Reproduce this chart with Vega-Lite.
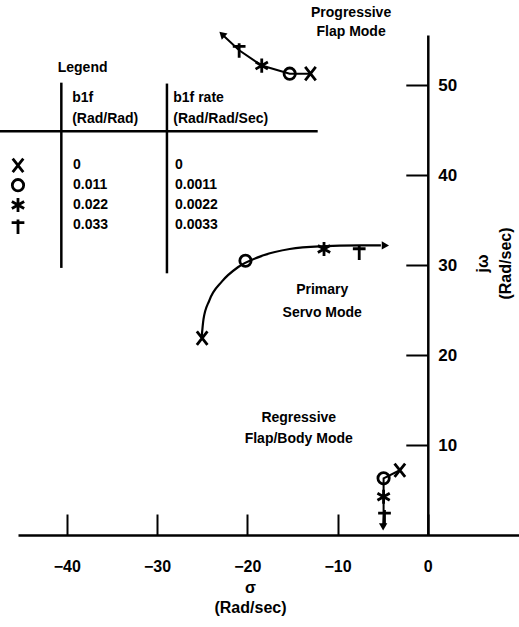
{
  "$schema": "https://vega.github.io/schema/vega-lite/v6.json",
  "autosize": "none",
  "width": 501,
  "height": 500,
  "padding": {"left": 18, "top": 35, "right": 0, "bottom": 92},
  "background": "white",
  "config": {
    "view": {"stroke": null},
    "font": "Liberation Sans",
    "axis": {"grid": false}
  },
  "datasets": {
    "paths": [
      {"mode": "Progressive", "order": 0, "x": -13.0, "y": 51.3},
      {"mode": "Progressive", "order": 1, "x": -15.3, "y": 51.3},
      {"mode": "Progressive", "order": 2, "x": -18.4, "y": 52.2},
      {"mode": "Progressive", "order": 3, "x": -20.9, "y": 53.9},
      {"mode": "Progressive", "order": 4, "x": -22.6, "y": 55.5},
      {"mode": "Regressive", "order": 0, "x": -3.1, "y": 7.2},
      {"mode": "Regressive", "order": 1, "x": -4.9, "y": 6.3},
      {"mode": "Regressive", "order": 2, "x": -4.9, "y": 4.3},
      {"mode": "Regressive", "order": 3, "x": -4.9, "y": 2.4},
      {"mode": "Regressive", "order": 4, "x": -4.95, "y": 1.0},
      {"mode": "Primary", "order": 0, "x": -25.06, "y": 21.9},
      {"mode": "Primary", "order": 1, "x": -24.85, "y": 24.0},
      {"mode": "Primary", "order": 2, "x": -24.2, "y": 26.1},
      {"mode": "Primary", "order": 3, "x": -22.8, "y": 28.2},
      {"mode": "Primary", "order": 4, "x": -21.0, "y": 29.8},
      {"mode": "Primary", "order": 5, "x": -18.2, "y": 31.1},
      {"mode": "Primary", "order": 6, "x": -15.3, "y": 31.8},
      {"mode": "Primary", "order": 7, "x": -12.0, "y": 32.1},
      {"mode": "Primary", "order": 8, "x": -7.5, "y": 32.2},
      {"mode": "Primary", "order": 9, "x": -5.2, "y": 32.2}
    ],
    "arrows": [
      {"mode": "Progressive", "x": -22.8, "y": 55.7},
      {"mode": "Primary", "x": -4.7, "y": 32.2},
      {"mode": "Regressive", "x": -4.95, "y": 0.9}
    ],
    "syms": [
      {"sym": "X", "x": -13.0, "y": 51.3},
      {"sym": "O", "x": -15.3, "y": 51.3},
      {"sym": "*", "x": -18.4, "y": 52.2},
      {"sym": "+", "x": -20.9, "y": 53.9},
      {"sym": "X", "x": -25.0, "y": 21.9},
      {"sym": "O", "x": -20.2, "y": 30.5},
      {"sym": "*", "x": -11.5, "y": 31.8},
      {"sym": "+", "x": -7.6, "y": 31.4},
      {"sym": "X", "x": -3.1, "y": 7.2},
      {"sym": "O", "x": -4.9, "y": 6.3},
      {"sym": "*", "x": -4.9, "y": 4.25},
      {"sym": "+", "x": -4.8, "y": 2.0},
      {"sym": "X", "x": -45.4, "y": 41.1},
      {"sym": "O", "x": -45.4, "y": 38.9},
      {"sym": "*", "x": -45.4, "y": 36.7},
      {"sym": "+", "x": -45.4, "y": 34.3}
    ],
    "rules": [
      {"x": -47.4, "y": 44.9, "x2": -12.2, "y2": 44.9},
      {"x": -40.6, "y": 50.3, "x2": -40.6, "y2": 29.7},
      {"x": -28.9, "y": 50.2, "x2": -28.9, "y2": 29.1}
    ],
    "modeText": [
      {"text": "Progressive", "x": -8.5, "y": 58.0},
      {"text": "Flap Mode", "x": -8.5, "y": 55.9},
      {"text": "Primary", "x": -11.7, "y": 27.2},
      {"text": "Servo Mode", "x": -11.7, "y": 24.7},
      {"text": "Regressive", "x": -14.3, "y": 13.0},
      {"text": "Flap/Body Mode", "x": -14.3, "y": 10.7}
    ],
    "tableText": [
      {"text": "Legend", "x": -41.0, "y": 51.9},
      {"text": "b1f", "x": -39.4, "y": 48.6},
      {"text": "(Rad/Rad)", "x": -39.4, "y": 46.3},
      {"text": "b1f rate", "x": -28.2, "y": 48.6},
      {"text": "(Rad/Rad/Sec)", "x": -28.2, "y": 46.3},
      {"text": "0", "x": -39.3, "y": 41.1},
      {"text": "0.011", "x": -39.3, "y": 38.9},
      {"text": "0.022", "x": -39.3, "y": 36.7},
      {"text": "0.033", "x": -39.3, "y": 34.5},
      {"text": "0", "x": -28.0, "y": 41.1},
      {"text": "0.0011", "x": -28.0, "y": 38.9},
      {"text": "0.0022", "x": -28.0, "y": 36.7},
      {"text": "0.0033", "x": -28.0, "y": 34.5}
    ]
  },
  "encoding": {
    "x": {
      "field": "x", "type": "quantitative",
      "scale": {"domain": [-45.4, 10.1], "nice": false, "zero": false},
      "axis": {
        "orient": "bottom",
        "values": [-40, -30, -20, -10, 0],
        "tickSize": -21, "tickWidth": 2, "tickColor": "black",
        "domainColor": "black", "domainWidth": 2.5,
        "labelFont": "Liberation Sans", "labelFontWeight": "bold", "labelFontSize": 16,
        "labelColor": "black", "labelPadding": 44,
        "title": ["σ", "(Rad/sec)"],
        "titleFont": "Liberation Sans", "titleFontWeight": "bold", "titleFontSize": 16,
        "titleColor": "black", "titleLineHeight": 20,
        "titleX": 232, "titleY": 44, "titleBaseline": "top", "titleAlign": "center"
      }
    },
    "y": {
      "field": "y", "type": "quantitative",
      "scale": {"domain": [0, 55.6], "nice": false, "zero": false},
      "axis": {
        "orient": "right", "offset": -91.2,
        "values": [10, 20, 30, 40, 50],
        "tickSize": -22, "tickWidth": 2, "tickColor": "black",
        "domainColor": "black", "domainWidth": 2.5,
        "labelFont": "Liberation Sans", "labelFontWeight": "bold", "labelFontSize": 17,
        "labelColor": "black", "labelPadding": 32, "labelAlign": "left",
        "title": ["jω", "(Rad/sec)"],
        "titleFont": "Liberation Sans", "titleFontWeight": "bold", "titleFontSize": 16,
        "titleColor": "black", "titleLineHeight": 23, "titleAngle": 270,
        "titleX": 55, "titleY": 228, "titleAlign": "center", "titleBaseline": "middle"
      }
    }
  },
  "layer": [
    {
      "data": {"name": "paths"},
      "transform": [{"filter": "datum.mode !== 'Primary'"}],
      "mark": {"type": "line", "color": "black", "strokeWidth": 2},
      "encoding": {"detail": {"field": "mode"}, "order": {"field": "order", "type": "quantitative"}}
    },
    {
      "data": {"name": "paths"},
      "transform": [{"filter": "datum.mode === 'Primary'"}],
      "mark": {"type": "line", "color": "black", "strokeWidth": 2.2, "interpolate": "monotone"},
      "encoding": {"order": {"field": "order", "type": "quantitative"}}
    },
    {
      "data": {"name": "rules"},
      "mark": {"type": "rule", "color": "black", "strokeWidth": 2.5},
      "encoding": {"x2": {"field": "x2"}, "y2": {"field": "y2"}}
    },
    {
      "data": {"name": "syms"},
      "mark": {"type": "point", "filled": false, "stroke": "black", "strokeWidth": 2.8, "opacity": 1, "size": 200},
      "encoding": {
        "shape": {
          "field": "sym", "type": "nominal", "legend": null,
          "scale": {
            "domain": ["X", "O", "*", "+"],
            "range": [
              "M-0.75,-0.95L0.75,0.95M-0.75,0.95L0.75,-0.95",
              "M0.8,0A0.8,0.8,0,1,1,-0.8,0A0.8,0.8,0,1,1,0.8,0Z",
              "M0,-1L0,1M-0.87,-0.5L0.87,0.5M-0.87,0.5L0.87,-0.5",
              "M-0.9,-0.55L0.9,-0.55M0,-1L0,1.05"
            ]
          }
        }
      }
    },
    {
      "data": {"name": "arrows"},
      "transform": [{"filter": "datum.mode === 'Progressive'"}],
      "mark": {"type": "point", "shape": "triangle-up", "filled": true, "color": "black", "opacity": 1, "size": 70, "angle": -47}
    },
    {
      "data": {"name": "arrows"},
      "transform": [{"filter": "datum.mode === 'Primary'"}],
      "mark": {"type": "point", "shape": "triangle-up", "filled": true, "color": "black", "opacity": 1, "size": 70, "angle": 90}
    },
    {
      "data": {"name": "arrows"},
      "transform": [{"filter": "datum.mode === 'Regressive'"}],
      "mark": {"type": "point", "shape": "triangle-up", "filled": true, "color": "black", "opacity": 1, "size": 70, "angle": 180}
    },
    {
      "data": {"name": "modeText"},
      "mark": {"type": "text", "font": "Liberation Sans", "fontWeight": "bold", "fontSize": 14, "color": "black", "align": "center", "baseline": "middle"},
      "encoding": {"text": {"field": "text"}}
    },
    {
      "data": {"name": "tableText"},
      "mark": {"type": "text", "font": "Liberation Sans", "fontWeight": "bold", "fontSize": 14, "color": "black", "align": "left", "baseline": "middle"},
      "encoding": {"text": {"field": "text"}}
    }
  ]
}
